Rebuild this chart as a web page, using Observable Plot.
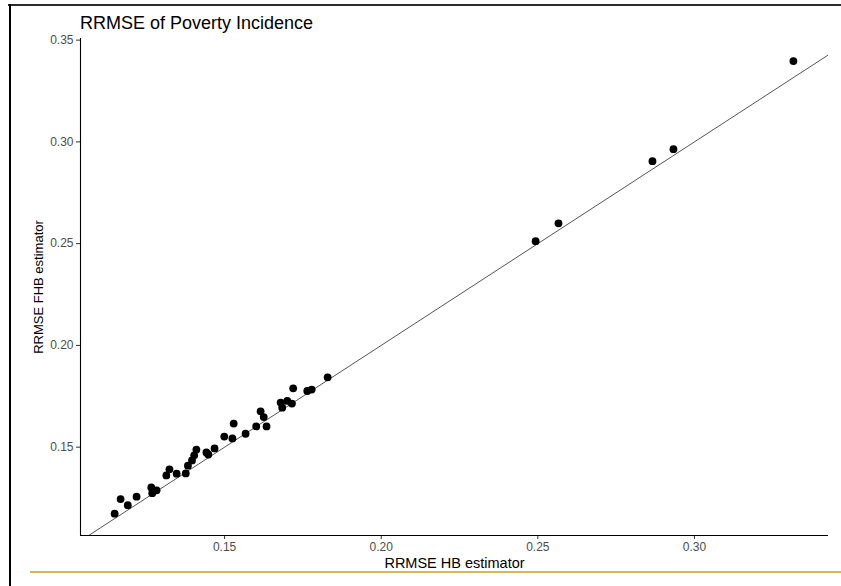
<!DOCTYPE html>
<html>
<head>
<meta charset="utf-8">
<script src="https://cdn.jsdelivr.net/npm/d3@7"></script>
<script src="https://cdn.jsdelivr.net/npm/@observablehq/plot@0.6"></script>
<style>
  html, body { margin: 0; padding: 0; background: #fff; }
  #wrap { position: relative; width: 841px; height: 586px; overflow: hidden; font-family: "Liberation Sans", Arial, sans-serif; }
  #title { height: 34px; box-sizing: border-box; padding-left: 80px; padding-top: 14px; font-size: 18px; line-height: 18px; color: #000; white-space: nowrap; }
  #frameTop { position: absolute; left: 8px; top: 4px; width: 833px; height: 2px; background: #2b2b2b; }
  #frameLeft { position: absolute; left: 9px; top: 4px; width: 2px; height: 582px; background: #000; }
  #gold { position: absolute; left: 30px; top: 571px; width: 811px; height: 1.5px; background: #d8b45c; }
  svg { display: block; }
</style>
</head>
<body>
<div id="wrap">
  <div id="title"></div>
  <div id="chart"></div>
  <div id="frameTop"></div>
  <div id="frameLeft"></div>
  <div id="gold"></div>
</div>
<script>
// ---- data ----
const titleText = "RRMSE of Poverty Incidence";
const xLabel = "RRMSE HB estimator";
const yLabel = "RRMSE FHB estimator";

// RRMSE of the HB estimator (x) per area
const hbValues = [
  0.1149, 0.1168, 0.1191, 0.1219, 0.1266, 0.1269, 0.1283, 0.1314, 0.1324, 0.1347,
  0.1376, 0.1383, 0.1396, 0.1403, 0.1410, 0.1442, 0.1448, 0.1468, 0.1499, 0.1525,
  0.1529, 0.1567, 0.1601, 0.1615, 0.1625, 0.1634, 0.1679, 0.1684, 0.1700, 0.1715,
  0.1719, 0.1764, 0.1778, 0.1829, 0.2493, 0.2566, 0.2866, 0.2933, 0.3316
];
// RRMSE of the FHB estimator (y) per area
const fhbValues = [
  0.1173, 0.1245, 0.1215, 0.1257, 0.1302, 0.1274, 0.1288, 0.1361, 0.1391, 0.1370,
  0.1371, 0.1409, 0.1435, 0.1460, 0.1488, 0.1474, 0.1464, 0.1494, 0.1552, 0.1543,
  0.1616, 0.1566, 0.1602, 0.1676, 0.1648, 0.1602, 0.1719, 0.1694, 0.1727, 0.1714,
  0.1789, 0.1776, 0.1783, 0.1843, 0.2512, 0.2600, 0.2905, 0.2964, 0.3397
];
const xTicks = [0.15, 0.20, 0.25, 0.30];
const yTicks = [0.15, 0.20, 0.25, 0.30, 0.35];
// identity reference line y = x
const identityLine = [0.10, 0.35];

// ---- build ----
const points = hbValues.map((x, i) => ({x, y: fhbValues[i]}));
const fmt = d3.format(".2f");

document.getElementById("title").textContent = titleText;

const chart = Plot.plot({
  width: 841,
  height: 552,
  marginLeft: 80,
  marginRight: 13,
  marginTop: 4,
  marginBottom: 51,
  style: { fontFamily: "Liberation Sans, Arial, sans-serif", background: "transparent", overflow: "visible" },
  x: { domain: [0.1040, 0.3428], ticks: xTicks, tickFormat: fmt },
  y: { domain: [0.1066, 0.3508], ticks: yTicks, tickFormat: fmt },
  marks: [
    Plot.axisX({ ticks: xTicks, tickFormat: fmt, tickSize: 4, tickPadding: 3, fontSize: 12, fill: "#4d4d4d", stroke: "#333", label: null }),
    Plot.axisY({ ticks: yTicks, tickFormat: fmt, tickSize: 4, tickPadding: 3, fontSize: 12, fill: "#4d4d4d", stroke: "#333", label: null }),
    Plot.ruleY([0.1066], { stroke: "#000", strokeWidth: 1.1 }),
    Plot.ruleX([0.1040], { stroke: "#000", strokeWidth: 1.1 }),
    Plot.line(identityLine, { x: d => d, y: d => d, stroke: "#2a2a2a", strokeWidth: 0.8, clip: true }),
    Plot.dot(points, { x: "x", y: "y", r: 3.9, fill: "#000", stroke: null }),
    Plot.text([xLabel], { frameAnchor: "bottom", dy: 32, fontSize: 14.5, fill: "#000", lineAnchor: "bottom" }),
    Plot.text([yLabel], { frameAnchor: "left", dx: -42, rotate: -90, textAnchor: "middle", fontSize: 13, fill: "#000" })
  ]
});
document.getElementById("chart").appendChild(chart);
</script>
</body>
</html>
